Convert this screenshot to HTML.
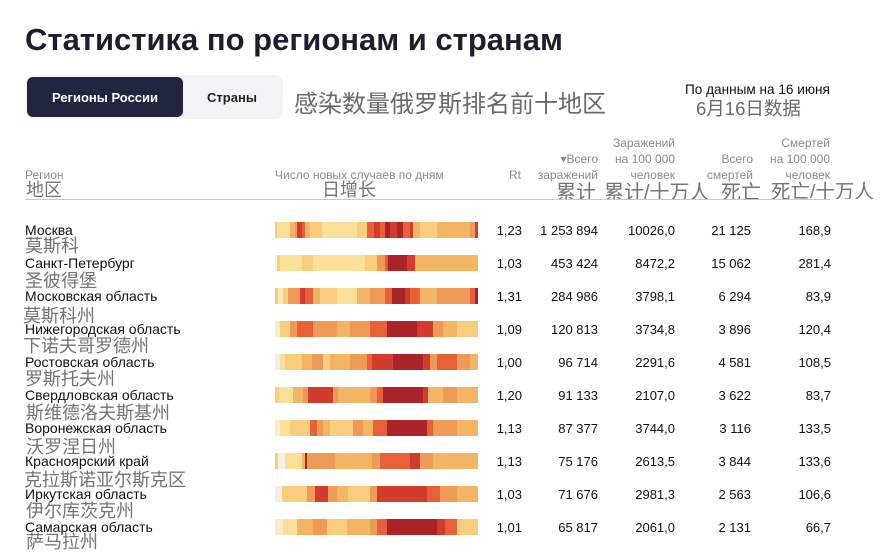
<!DOCTYPE html>
<html><head><meta charset="utf-8">
<style>
*{margin:0;padding:0;box-sizing:border-box}
html,body{width:889px;height:555px;background:#fff;overflow:hidden}
#c{position:relative;width:889px;height:555px;font-family:"Liberation Sans","Noto Sans CJK SC",sans-serif;}
.a{position:absolute;white-space:nowrap;line-height:1}
.cn{font-family:"Liberation Sans","Noto Sans CJK SC",sans-serif;color:#747474}
.ru{font-size:14px;color:#111}
.num{font-size:13px;color:#111;text-align:right}
.hd{position:absolute;font-size:12px;line-height:16px;color:#8a8a8a;text-align:right;white-space:nowrap}
.bar{position:absolute;left:275px;width:203px;height:16px}
</style></head><body><div id="c">

<div class="a" style="left:25px;top:24px;font-size:31px;font-weight:bold;color:#1c1e2e;">Статистика по регионам и странам</div>

<div style="position:absolute;left:26px;top:75px;width:257px;height:44px;background:#f3f3f5;border-radius:8px;"></div>
<div style="position:absolute;left:27px;top:77px;width:156px;height:40px;background:#212540;border-radius:6px;"></div>
<div class="a" style="left:27px;width:156px;text-align:center;top:91px;font-size:13px;font-weight:bold;color:#fff;">Регионы России</div>
<div class="a" style="left:183px;width:98px;text-align:center;top:91px;font-size:13px;font-weight:bold;color:#222;">Страны</div>

<div class="a cn" style="left:294px;top:93px;font-size:24px;color:#6a6a6a;">感染数量俄罗斯排名前十地区</div>
<div class="a" style="left:685px;top:83px;font-size:13.6px;color:#111;">По данным на 16 июня</div>
<div class="a cn" style="left:696px;top:100px;font-size:18.5px;color:#6a6a6a;">6月16日数据</div>

<!-- headers -->
<div class="hd" style="left:25px;top:167px;text-align:left;">Регион</div>
<div class="hd" style="left:275px;top:167px;text-align:left;">Число новых случаев по дням</div>
<div class="hd" style="right:368px;top:167px;">Rt</div>
<div class="hd" style="right:291px;top:151px;">▾Всего<br>заражений</div>
<div class="hd" style="right:214px;top:135px;">Заражений<br>на 100 000<br>человек</div>
<div class="hd" style="right:136px;top:151px;">Всего<br>смертей</div>
<div class="hd" style="right:59px;top:135px;">Смертей<br>на 100 000<br>человек</div>

<div style="position:absolute;left:0;top:178px;width:889px;height:21px;overflow:hidden;">
  <div class="a cn" style="left:26px;top:3px;font-size:18px;">地区</div>
  <div class="a cn" style="left:322px;top:3px;font-size:18px;">日增长</div>
  <div class="a cn" style="left:556px;top:5px;font-size:20px;">累计</div>
  <div class="a cn" style="left:604px;top:5px;font-size:20px;">累计/十万人</div>
  <div class="a cn" style="left:721px;top:5px;font-size:20px;">死亡</div>
  <div class="a cn" style="left:771px;top:5px;font-size:19.5px;">死亡/十万人</div>
</div>
<div style="position:absolute;left:25px;top:199px;width:805px;height:1px;background:#c8c8c8;"></div>

<!-- bars -->
<div class="bar" style="top:222px;background:linear-gradient(to right,#f8cd7e 0 2px,#fbe09a 2px 15px,#f3b464 15px 20px,#ef9a57 20px 22px,#d23c2c 22px 27px,#e8603a 27px 30px,#f3b464 30px 35px,#f8cd7e 35px 47px,#fbe09a 47px 82px,#f8cd7e 82px 92px,#e8603a 92px 99px,#d23c2c 99px 105px,#e8603a 105px 110px,#a92329 110px 115px,#d23c2c 115px 122px,#a92329 122px 128px,#e8603a 128px 135px,#d23c2c 135px 138px,#f3b464 138px 145px,#f8cd7e 145px 162px,#f3b464 162px 195px,#ef9a57 195px 200px,#d23c2c 200px 203px);"></div>
<div class="bar" style="top:255px;background:linear-gradient(to right,#f6f0e8 0 2px,#f8cd7e 2px 5px,#fbe09a 5px 27px,#f8cd7e 27px 38px,#fbe09a 38px 90px,#f8cd7e 90px 102px,#ef9a57 102px 110px,#e8603a 110px 113px,#a92329 113px 132px,#d23c2c 132px 140px,#f3b464 140px 150px,#f3b464 150px 203px);"></div>
<div class="bar" style="top:288px;background:linear-gradient(to right,#f8cd7e 0 3px,#fbe9b5 3px 8px,#f8cd7e 8px 13px,#ef9a57 13px 25px,#d23c2c 25px 30px,#e8603a 30px 38px,#f3b464 38px 45px,#f8cd7e 45px 62px,#fbe09a 62px 82px,#f3b464 82px 95px,#ef9a57 95px 110px,#e8603a 110px 117px,#a92329 117px 130px,#d23c2c 130px 135px,#e8603a 135px 145px,#f3b464 145px 162px,#ef9a57 162px 195px,#e8603a 195px 200px,#a92329 200px 203px);"></div>
<div class="bar" style="top:321px;background:linear-gradient(to right,#f8ebd0 0 5px,#f8cd7e 5px 15px,#ef9a57 15px 22px,#e8603a 22px 38px,#ef9a57 38px 62px,#f3b464 62px 75px,#ef9a57 75px 95px,#e8603a 95px 112px,#a92329 112px 142px,#d23c2c 142px 158px,#ef9a57 158px 168px,#f3b464 168px 182px,#f8cd7e 182px 203px);"></div>
<div class="bar" style="top:354px;background:linear-gradient(to right,#f0eef0 0 5px,#fbe09a 5px 10px,#f8cd7e 10px 27px,#f3b464 27px 37px,#ef9a57 37px 48px,#f8cd7e 48px 55px,#f3b464 55px 75px,#ef9a57 75px 92px,#e8603a 92px 97px,#d23c2c 97px 118px,#a92329 118px 148px,#d23c2c 148px 155px,#ef9a57 155px 162px,#e8603a 162px 182px,#ef9a57 182px 195px,#f3b464 195px 203px);"></div>
<div class="bar" style="top:387px;background:linear-gradient(to right,#f8cd7e 0 4px,#fbe09a 4px 18px,#f3b464 18px 28px,#ef9a57 28px 33px,#d23c2c 33px 58px,#ef9a57 58px 63px,#f3b464 63px 95px,#ef9a57 95px 102px,#e8603a 102px 108px,#a92329 108px 148px,#d23c2c 148px 153px,#f3b464 153px 168px,#ef9a57 168px 182px,#f3b464 182px 203px);"></div>
<div class="bar" style="top:420px;background:linear-gradient(to right,#f8ebd0 0 5px,#fbe09a 5px 15px,#f8cd7e 15px 35px,#e8603a 35px 42px,#ef9a57 42px 48px,#f3b464 48px 55px,#f8cd7e 55px 78px,#ef9a57 78px 88px,#f3b464 88px 98px,#e8603a 98px 112px,#a92329 112px 152px,#e8603a 152px 158px,#ef9a57 158px 182px,#f3b464 182px 203px);"></div>
<div class="bar" style="top:453px;background:linear-gradient(to right,#f8cd7e 0 3px,#f6f0e8 3px 10px,#fbe09a 10px 27px,#f3b464 27px 30px,#a92329 30px 32px,#ef9a57 32px 60px,#f3b464 60px 97px,#ef9a57 97px 105px,#e8603a 105px 135px,#d23c2c 135px 145px,#ef9a57 145px 158px,#f3b464 158px 203px);"></div>
<div class="bar" style="top:486px;background:linear-gradient(to right,#f2eeee 0 7px,#f8cd7e 7px 32px,#ef9a57 32px 40px,#d23c2c 40px 53px,#ef9a57 53px 62px,#f3b464 62px 73px,#f8cd7e 73px 95px,#ef9a57 95px 102px,#d23c2c 102px 152px,#e8603a 152px 165px,#ef9a57 165px 182px,#f3b464 182px 203px);"></div>
<div class="bar" style="top:519px;background:linear-gradient(to right,#f8ebd0 0 8px,#fbe09a 8px 22px,#f3b464 22px 38px,#ef9a57 38px 52px,#f8cd7e 52px 72px,#f3b464 72px 95px,#ef9a57 95px 102px,#e8603a 102px 112px,#a92329 112px 162px,#d23c2c 162px 170px,#e8603a 170px 182px,#f8cd7e 182px 203px);"></div>

<!-- names -->
<div class="a ru" style="left:25px;top:223px;">Москва</div>
<div class="a cn" style="left:25px;top:237px;font-size:18px;">莫斯科</div>
<div class="a ru" style="left:25px;top:256px;">Санкт-Петербург</div>
<div class="a cn" style="left:25px;top:272px;font-size:18px;">圣彼得堡</div>
<div class="a ru" style="left:25px;top:289px;">Московская область</div>
<div class="a cn" style="left:23px;top:307px;font-size:18px;">莫斯科州</div>
<div class="a ru" style="left:25px;top:322px;">Нижегородская область</div>
<div class="a cn" style="left:23px;top:337px;font-size:18px;">下诺夫哥罗德州</div>
<div class="a ru" style="left:25px;top:355px;">Ростовская область</div>
<div class="a cn" style="left:25px;top:370px;font-size:18px;">罗斯托夫州</div>
<div class="a ru" style="left:25px;top:388px;">Свердловская область</div>
<div class="a cn" style="left:26px;top:404px;font-size:18px;">斯维德洛夫斯基州</div>
<div class="a ru" style="left:25px;top:421px;">Воронежская область</div>
<div class="a cn" style="left:26px;top:438px;font-size:18px;">沃罗涅日州</div>
<div class="a ru" style="left:25px;top:454px;">Красноярский край</div>
<div class="a cn" style="left:24px;top:471px;font-size:18px;">克拉斯诺亚尔斯克区</div>
<div class="a ru" style="left:25px;top:487px;">Иркутская область</div>
<div class="a cn" style="left:26px;top:502px;font-size:18px;">伊尔库茨克州</div>
<div class="a ru" style="left:25px;top:520px;">Самарская область</div>
<div class="a cn" style="left:26px;top:533px;font-size:18px;">萨马拉州</div>

<!-- numbers -->
<div class="a num" style="left:460px;width:62px;top:224px;">1,23</div>
<div class="a num" style="left:520px;width:78px;top:224px;">1 253 894</div>
<div class="a num" style="left:600px;width:75px;top:224px;">10026,0</div>
<div class="a num" style="left:680px;width:71px;top:224px;">21 125</div>
<div class="a num" style="left:760px;width:71px;top:224px;">168,9</div>

<div class="a num" style="left:460px;width:62px;top:257px;">1,03</div>
<div class="a num" style="left:520px;width:78px;top:257px;">453 424</div>
<div class="a num" style="left:600px;width:75px;top:257px;">8472,2</div>
<div class="a num" style="left:680px;width:71px;top:257px;">15 062</div>
<div class="a num" style="left:760px;width:71px;top:257px;">281,4</div>

<div class="a num" style="left:460px;width:62px;top:290px;">1,31</div>
<div class="a num" style="left:520px;width:78px;top:290px;">284 986</div>
<div class="a num" style="left:600px;width:75px;top:290px;">3798,1</div>
<div class="a num" style="left:680px;width:71px;top:290px;">6 294</div>
<div class="a num" style="left:760px;width:71px;top:290px;">83,9</div>

<div class="a num" style="left:460px;width:62px;top:323px;">1,09</div>
<div class="a num" style="left:520px;width:78px;top:323px;">120 813</div>
<div class="a num" style="left:600px;width:75px;top:323px;">3734,8</div>
<div class="a num" style="left:680px;width:71px;top:323px;">3 896</div>
<div class="a num" style="left:760px;width:71px;top:323px;">120,4</div>

<div class="a num" style="left:460px;width:62px;top:356px;">1,00</div>
<div class="a num" style="left:520px;width:78px;top:356px;">96 714</div>
<div class="a num" style="left:600px;width:75px;top:356px;">2291,6</div>
<div class="a num" style="left:680px;width:71px;top:356px;">4 581</div>
<div class="a num" style="left:760px;width:71px;top:356px;">108,5</div>

<div class="a num" style="left:460px;width:62px;top:389px;">1,20</div>
<div class="a num" style="left:520px;width:78px;top:389px;">91 133</div>
<div class="a num" style="left:600px;width:75px;top:389px;">2107,0</div>
<div class="a num" style="left:680px;width:71px;top:389px;">3 622</div>
<div class="a num" style="left:760px;width:71px;top:389px;">83,7</div>

<div class="a num" style="left:460px;width:62px;top:422px;">1,13</div>
<div class="a num" style="left:520px;width:78px;top:422px;">87 377</div>
<div class="a num" style="left:600px;width:75px;top:422px;">3744,0</div>
<div class="a num" style="left:680px;width:71px;top:422px;">3 116</div>
<div class="a num" style="left:760px;width:71px;top:422px;">133,5</div>

<div class="a num" style="left:460px;width:62px;top:455px;">1,13</div>
<div class="a num" style="left:520px;width:78px;top:455px;">75 176</div>
<div class="a num" style="left:600px;width:75px;top:455px;">2613,5</div>
<div class="a num" style="left:680px;width:71px;top:455px;">3 844</div>
<div class="a num" style="left:760px;width:71px;top:455px;">133,6</div>

<div class="a num" style="left:460px;width:62px;top:488px;">1,03</div>
<div class="a num" style="left:520px;width:78px;top:488px;">71 676</div>
<div class="a num" style="left:600px;width:75px;top:488px;">2981,3</div>
<div class="a num" style="left:680px;width:71px;top:488px;">2 563</div>
<div class="a num" style="left:760px;width:71px;top:488px;">106,6</div>

<div class="a num" style="left:460px;width:62px;top:521px;">1,01</div>
<div class="a num" style="left:520px;width:78px;top:521px;">65 817</div>
<div class="a num" style="left:600px;width:75px;top:521px;">2061,0</div>
<div class="a num" style="left:680px;width:71px;top:521px;">2 131</div>
<div class="a num" style="left:760px;width:71px;top:521px;">66,7</div>

</div></body></html>
